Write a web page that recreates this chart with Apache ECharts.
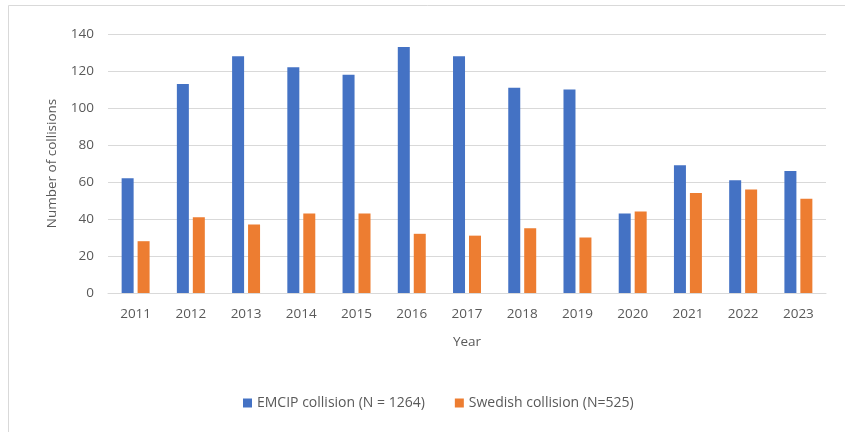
<!DOCTYPE html>
<html>
<head>
<meta charset="utf-8">
<script src="https://cdn.jsdelivr.net/npm/echarts@6/dist/echarts.min.js"></script>
<style>
  html, body { margin: 0; padding: 0; background: #fff; }
  #chart { width: 845px; height: 432px; }
</style>
</head>
<body>
<div id="chart"></div>
<script>
// Annual collision counts by year
const years = ['2011','2012','2013','2014','2015','2016','2017','2018','2019','2020','2021','2022','2023'];
const emcipCollisions = [62, 113, 128, 122, 118, 133, 128, 111, 110, 43, 69, 61, 66];
const swedishCollisions = [28, 41, 37, 43, 43, 32, 31, 35, 30, 44, 54, 56, 51];
const seriesNames = ['EMCIP collision (N = 1264)', 'Swedish collision (N=525)'];
const yTicks = { min: 0, max: 140, interval: 20 };

const textColor = '#595959';
const fontFamily = '"Open Sans", "Noto Sans", sans-serif';

const chart = echarts.init(document.getElementById('chart'), null, { renderer: 'canvas' });
chart.setOption({
  animation: false,
  backgroundColor: '#fff',
  textStyle: { fontFamily: fontFamily, color: textColor },
  graphic: [{
    type: 'rect',
    shape: { x: 8.5, y: 5.5, width: 860, height: 460 },
    style: { fill: 'none', stroke: '#d9d9d9', lineWidth: 1 },
    silent: true
  }],
  grid: { left: 108, right: 19, top: 34, bottom: 139, containLabel: false },
  legend: {
    bottom: 17,
    left: 238,
    itemWidth: 9,
    itemHeight: 9,
    itemGap: 30,
    icon: 'rect',
    textStyle: { fontSize: 14, color: textColor, fontFamily: fontFamily },
    data: seriesNames
  },
  xAxis: {
    type: 'category',
    data: years,
    name: 'Year',
    nameLocation: 'middle',
    nameGap: 42,
    nameTextStyle: { fontSize: 13.5, color: textColor },
    axisLine: { lineStyle: { color: '#d9d9d9', width: 1 } },
    axisTick: { show: false },
    axisLabel: { fontSize: 13.5, color: textColor, margin: 14 }
  },
  yAxis: {
    type: 'value',
    min: yTicks.min,
    max: yTicks.max,
    interval: yTicks.interval,
    name: 'Number of collisions',
    nameLocation: 'middle',
    nameGap: 49,
    nameTextStyle: { fontSize: 13.5, color: textColor },
    axisLine: { show: false },
    axisTick: { show: false },
    axisLabel: { fontSize: 13.5, color: textColor, margin: 14 },
    splitLine: { lineStyle: { color: '#d9d9d9', width: 1 } }
  },
  series: [
    {
      name: seriesNames[0],
      type: 'bar',
      data: emcipCollisions,
      barWidth: 12,
      barGap: '33%',
      itemStyle: { color: '#4472C4' }
    },
    {
      name: seriesNames[1],
      type: 'bar',
      data: swedishCollisions,
      barWidth: 12,
      barGap: '33%',
      itemStyle: { color: '#ED7D31' }
    }
  ]
});
</script>
</body>
</html>
